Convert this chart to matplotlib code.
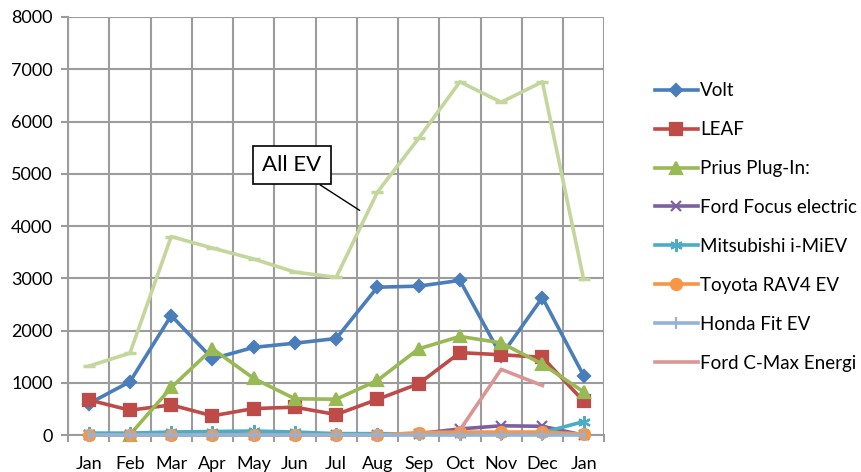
import numpy as np
import matplotlib.pyplot as plt

months = ["Jan", "Feb", "Mar", "Apr", "May", "Jun", "Jul",
          "Aug", "Sep", "Oct", "Nov", "Dec", "Jan"]

nan = np.nan
volt = [603, 1023, 2289, 1462, 1680, 1760, 1849, 2831, 2851, 2961, 1519, 2633, 1140]
leaf = [676, 478, 579, 370, 510, 535, 395, 685, 984, 1579, 1539, 1489, 650]
prius = [nan, 10, 913, 1654, 1086, 696, 688, 1047, 1652, 1889, 1766, 1359, 830]
focus = [0, 0, 0, 0, 0, 10, 0, 0, 30, 120, 180, 170, 0]
imiev = [40, 40, 60, 70, 80, 60, 30, 30, 20, 30, 40, 50, 260]
rav4 = [0, 0, 0, 0, 0, 0, 0, 0, 50, 60, 60, 60, 20]
fit = [0, 0, 0, 0, 0, 0, 0, 0, 0, 0, 0, 0, 0]
cmax = [nan, nan, nan, nan, nan, nan, nan, nan, nan, 100, 1260, 950, nan]
all_ev = [1320, 1570, 3800, 3580, 3370, 3120, 3020, 4650, 5680, 6760, 6370, 6760, 2980]

plt.rcParams['font.family'] = ['Lato', 'DejaVu Sans']

fig = plt.figure(figsize=(8.62, 4.72), dpi=100)
ax = fig.add_axes([0.079, 0.078, 0.622, 0.886])

x = np.arange(len(months))
lw = 2.6
grid_col = "#9C9C9C"

# All EV line (no legend entry)
ax.plot(x, all_ev, color="#C3D69B", lw=lw, marker="_", ms=9, mew=2.5,
        zorder=2, clip_on=False)

series = [
    ("Volt", volt, "#4A7EBB", "D", 6),
    ("LEAF", leaf, "#BE4B48", "s", 8),
    ("Prius Plug-In:", prius, "#98B954", "^", 8),
    ("Ford Focus electric", focus, "#7D60A0", "x", 7),
    ("Mitsubishi i-MiEV", imiev, "#4BACC6", (6, 2, 0), 9),
    ("Toyota RAV4 EV", rav4, "#F79646", "o", 8),
    ("Honda Fit EV", fit, "#95B3D7", "|", 9),
    ("Ford C-Max Energi", cmax, "#D99694", None, 0),
]
for name, vals, col, mk, ms in series:
    ax.plot(x, vals, color=col, lw=lw, marker=mk, ms=ms,
            mec=col, mfc=col, mew=1.6, label=name, zorder=3, clip_on=False)

ax.set_xlim(-0.5, 12.5)
ax.set_ylim(0, 8000)
ax.set_yticks(np.arange(0, 8001, 1000))
ax.set_xticks(x)
ax.set_xticklabels(months)
ax.set_xticks(np.arange(-0.5, 12.6, 1), minor=True)

ax.grid(axis="y", which="major", color=grid_col, lw=1.5)
ax.grid(axis="x", which="minor", color=grid_col, lw=1.5)
ax.set_axisbelow(True)
ax.tick_params(axis="x", which="major", length=0, pad=15, labelsize=13)
ax.tick_params(axis="x", which="minor", length=5, color=grid_col, width=1.5)
ax.tick_params(axis="y", length=5, color=grid_col, width=1.5, labelsize=13, pad=6)
for s in ["top", "right"]:
    ax.spines[s].set_visible(False)
for s in ["left", "bottom"]:
    ax.spines[s].set_color(grid_col)
    ax.spines[s].set_linewidth(1.5)

ax.annotate("All EV", xy=(6.57, 4300), xytext=(4.92, 5170),
            ha="center", va="center", fontsize=16,
            bbox=dict(boxstyle="square,pad=0.42", fc="white", ec="black", lw=1.2),
            arrowprops=dict(arrowstyle="-", color="black", lw=1,
                            relpos=(0.72, 0.0), shrinkA=0, shrinkB=0),
            zorder=5)

ax.legend(loc="upper left", bbox_to_anchor=(1.08, 0.862), frameon=False,
          fontsize=13.5, handlelength=2.3, handletextpad=0.12,
          labelspacing=1.17, borderaxespad=0)

fig.savefig("out.png", dpi=100)
